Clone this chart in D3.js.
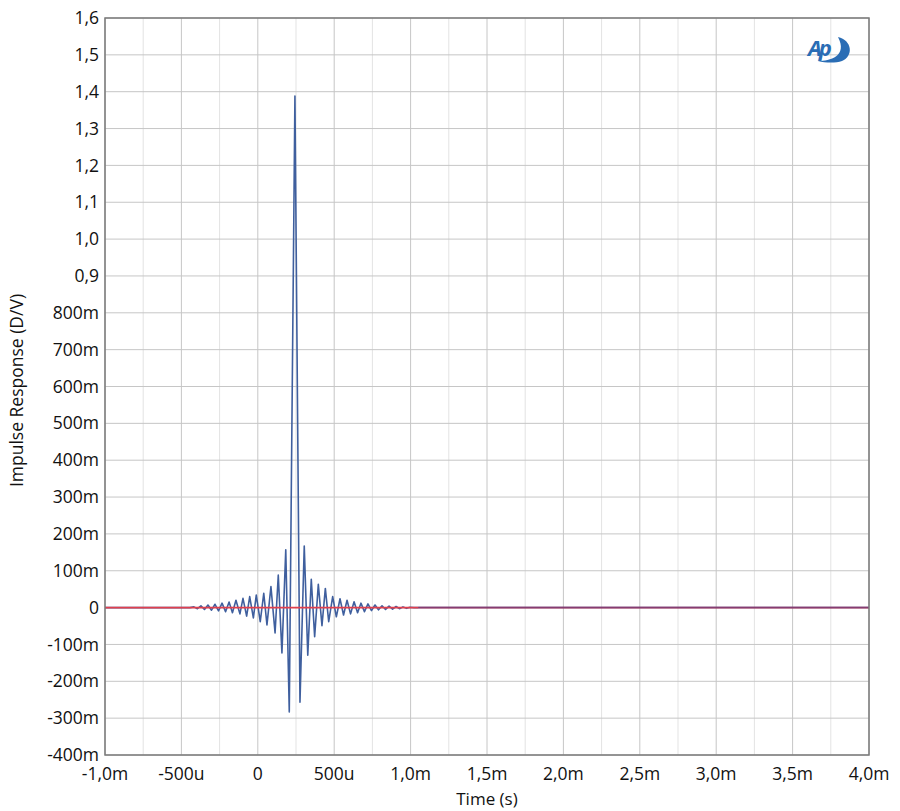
<!DOCTYPE html>
<html><head><meta charset="utf-8">
<script src="https://cdn.jsdelivr.net/npm/d3@7/dist/d3.min.js"></script>
<style>body{margin:0;background:#fff}text{font-family:"Open Sans","Noto Sans",sans-serif}</style>
</head><body>
<svg id="c" width="900" height="811"></svg>
<script>
// Impulse response trace (time in microseconds, response in D/V)
const impulseTime = [-1000,-444,-418,-395,-372,-349,-326,-303,-280,-257,-234,-211,-188,-166,-143,-117,-97,-73,-53,-29,-10,16,39,60,86,113,134,158,183,206,243,276,304,327,350,372,396,420,442,464,490,514,538,561,584,607,630,653,675,698,721,744,767,790,813,836,859,882,905,927,950,973,996,1022,1050];
const impulseValue = [0,0,0.002,-0.003,0.005,-0.005,0.007,-0.007,0.009,-0.009,0.012,-0.011,0.015,-0.014,0.020,-0.017,0.025,-0.023,0.030,-0.028,0.034,-0.038,0.039,-0.047,0.057,-0.069,0.088,-0.123,0.157,-0.283,1.388,-0.257,0.167,-0.129,0.077,-0.079,0.063,-0.049,0.052,-0.038,0.030,-0.025,0.024,-0.020,0.020,-0.017,0.016,-0.014,0.012,-0.011,0.010,-0.008,0.007,-0.006,0.005,-0.005,0.004,-0.004,0.003,-0.003,0.002,-0.002,0.001,0,0];
const tailTime = [1050,4000];
const tailValue = [0,0];
// Second (red) trace
const refTime = [-1000,4000];
const refValue = [0,0];

const yTicks = [-0.4,-0.3,-0.2,-0.1,0,0.1,0.2,0.3,0.4,0.5,0.6,0.7,0.8,0.9,1.0,1.1,1.2,1.3,1.4,1.5,1.6];
const yTickLabels = ["-400m","-300m","-200m","-100m","0","100m","200m","300m","400m","500m","600m","700m","800m","0,9","1,0","1,1","1,2","1,3","1,4","1,5","1,6"];
const xTicks = [-1000,-500,0,500,1000,1500,2000,2500,3000,3500,4000];
const xTickLabels = ["-1,0m","-500u","0","500u","1,0m","1,5m","2,0m","2,5m","3,0m","3,5m","4,0m"];
const xMinorTicks = [-750,-250,250,750,1250,1750,2250,2750,3250,3750];

const L=105,R=869,T=18,B=755;
const svg=d3.select("#c");
const x=d3.scaleLinear().domain([-1000,4000]).range([L,R]);
const y=d3.scaleLinear().domain([-0.4,1.6]).range([B,T]);

const g=svg.append("g");
g.selectAll(".xm").data(xMinorTicks).enter().append("line")
 .attr("x1",d=>x(d)).attr("x2",d=>x(d)).attr("y1",T).attr("y2",B)
 .attr("stroke","#e3e3e3").attr("stroke-width",1);
g.selectAll(".xg").data(xTicks).enter().append("line")
 .attr("x1",d=>x(d)).attr("x2",d=>x(d)).attr("y1",T).attr("y2",B)
 .attr("stroke","#c6c6c6").attr("stroke-width",1);
g.selectAll(".yg").data(yTicks).enter().append("line")
 .attr("x1",L).attr("x2",R).attr("y1",d=>y(d)).attr("y2",d=>y(d))
 .attr("stroke","#c6c6c6").attr("stroke-width",1);

const line=d3.line().x(d=>x(d[0])).y(d=>y(d[1]));
const imp=impulseTime.map((t,i)=>[t,impulseValue[i]]);
const tail=tailTime.map((t,i)=>[t,tailValue[i]]);
const ref=refTime.map((t,i)=>[t,refValue[i]]);
svg.append("path").attr("d",line(imp)).attr("fill","none").attr("stroke","#3f5f9e").attr("stroke-width",1.6).attr("stroke-linejoin","round");
svg.append("path").attr("d",line(ref)).attr("fill","none").attr("stroke","#e0404e").attr("stroke-width",1.6);
svg.append("path").attr("d",line(tail)).attr("fill","none").attr("stroke","#3a3a8e").attr("stroke-opacity",0.55).attr("stroke-width",2);

svg.append("rect").attr("x",L).attr("y",T).attr("width",R-L).attr("height",B-T)
 .attr("fill","none").attr("stroke","#7a7a7a").attr("stroke-width",1.5);

// tick labels
svg.selectAll(".yl").data(yTicks).enter().append("text")
 .attr("x",99).attr("y",d=>y(d)).attr("dy","0.35em").attr("text-anchor","end")
 .attr("font-size",17.5).attr("fill","#111").text((d,i)=>yTickLabels[i]);
svg.selectAll(".xl").data(xTicks).enter().append("text")
 .attr("x",d=>x(d)).attr("y",780).attr("text-anchor","middle")
 .attr("font-size",17.5).attr("fill","#111").text((d,i)=>xTickLabels[i]);

svg.append("text").attr("x",(L+R)/2).attr("y",805).attr("text-anchor","middle")
 .attr("font-size",17).attr("fill","#111").text("Time (s)");
svg.append("text").attr("transform",`translate(23,${(T+B)/2+4}) rotate(-90)`).attr("text-anchor","middle")
 .attr("font-size",17.5).attr("fill","#111").text("Impulse Response (D/V)");

// AP logo
const lg=svg.append("g").attr("transform","translate(808,36)");
lg.append("text").attr("x",0).attr("y",20).attr("font-size",22).attr("font-style","italic").attr("font-weight","bold")
 .attr("fill","#2a6db5").attr("letter-spacing","-3").text("Ap");
lg.append("path").attr("d","M30,1 C44,4 46,20 34,25 C28,27 18,27 10,25 C22,25 40,20 30,1 Z").attr("fill","#2a6db5");
</script>
</body></html>
